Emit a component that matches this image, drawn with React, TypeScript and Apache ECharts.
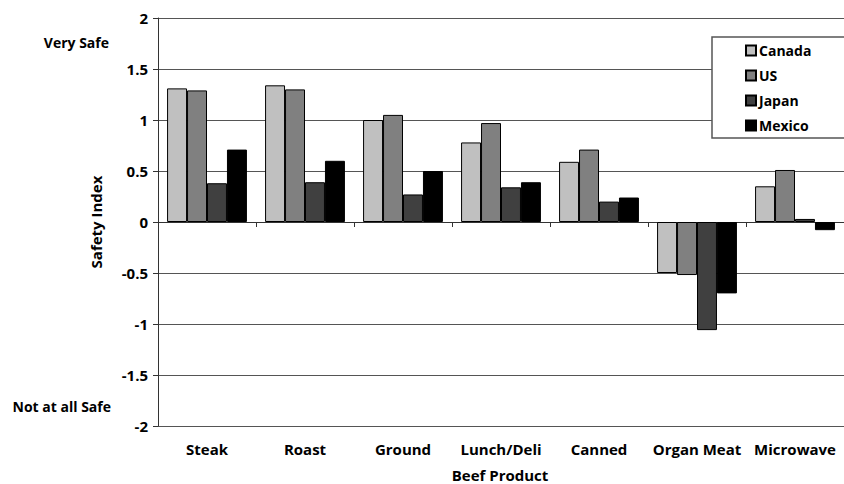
import React, { useEffect, useRef } from "react";
import * as echarts from "echarts";

const categories = ["Steak", "Roast", "Ground", "Lunch/Deli", "Canned", "Organ Meat", "Microwave"];
const seriesNames = ["Canada", "US", "Japan", "Mexico"];
const canada = [1.31, 1.34, 1.0, 0.78, 0.59, -0.5, 0.35];
const us = [1.29, 1.3, 1.05, 0.97, 0.71, -0.52, 0.51];
const japan = [0.38, 0.39, 0.27, 0.34, 0.2, -1.06, 0.03];
const mexico = [0.71, 0.6, 0.5, 0.39, 0.24, -0.7, -0.08];
const seriesData = [canada, us, japan, mexico];
const colors = ["#c0c0c0", "#808080", "#404040", "#000000"];
const yTicks = { min: -2, max: 2, interval: 0.5 };

const FONT = "Open Sans";

export default function App() {
  const ref = useRef<HTMLDivElement>(null);
  useEffect(() => {
    if (!ref.current) return;
    const chart = echarts.init(ref.current, null, { renderer: "svg" });
    const textBase = { fontFamily: FONT, fontWeight: "bold", fontSize: 14, color: "#000" };
    chart.setOption({
      animation: false,
      backgroundColor: "#fff",
      textStyle: { fontFamily: FONT },
      grid: { left: 158, top: 18, width: 691.6, bottom: 58, containLabel: false },
      legend: {
        orient: "vertical",
        left: 712,
        top: 37,
        icon: "rect",
        itemWidth: 10,
        itemHeight: 10,
        itemGap: 6,
        padding: [4, 80, 3, 33],
        backgroundColor: "#fff",
        borderColor: "#555",
        borderWidth: 1.5,
        borderRadius: 0,
        textStyle: { ...textBase, lineHeight: 19, padding: [0, 0, 0, -2] },
        data: seriesNames,
      },
      xAxis: [
        {
          type: "category",
          data: categories,
          position: "bottom",
          axisLine: { onZero: true, lineStyle: { color: "#333", width: 1 } },
          axisTick: { show: true, length: 5, lineStyle: { color: "#333" } },
          axisLabel: { show: false },
          splitLine: { show: false },
        },
        {
          type: "category",
          data: categories,
          position: "bottom",
          axisLine: { show: false, onZero: false },
          axisTick: { show: false },
          axisLabel: { ...textBase, fontSize: 15, margin: 15, interval: 0 },
          splitLine: { show: false },
        },
      ],
      yAxis: {
        type: "value",
        min: yTicks.min,
        max: yTicks.max,
        interval: yTicks.interval,
        axisLine: { show: true, lineStyle: { color: "#333", width: 1 } },
        axisTick: { show: true, length: 5, lineStyle: { color: "#333" } },
        axisLabel: { ...textBase, fontSize: 15, margin: 10 },
        splitLine: { show: true, lineStyle: { color: "#555", width: 1 } },
        name: "Safety Index",
        nameLocation: "middle",
        nameGap: 55,
        nameRotate: 90,
        nameTextStyle: { ...textBase, fontSize: 15 },
      },
      graphic: [
        { type: "text", right: 844 - 109, top: 35, style: { text: "Very Safe", fill: "#000", font: `bold 14px "${FONT}"`, textAlign: "right" } },
        { type: "text", right: 844 - 111, top: 399, style: { text: "Not at all Safe", fill: "#000", font: `bold 14px "${FONT}"`, textAlign: "right" } },
        { type: "text", x: 500, y: 475, style: { text: "Beef Product", fill: "#000", font: `bold 15px "${FONT}"`, lineHeight: 16, textAlign: "center", textVerticalAlign: "middle" } },
      ],
      series: seriesNames.map((name, i) => ({
        name,
        type: "bar",
        xAxisIndex: 0,
        data: seriesData[i],
        barGap: "0%",
        barCategoryGap: "18.5%",
        itemStyle: { color: colors[i], borderColor: "#000", borderWidth: 1 },
      })),
    });
    return () => chart.dispose();
  }, []);
  return <div ref={ref} style={{ width: 844, height: 484, position: "absolute", left: 0, top: 0 }} />;
}
